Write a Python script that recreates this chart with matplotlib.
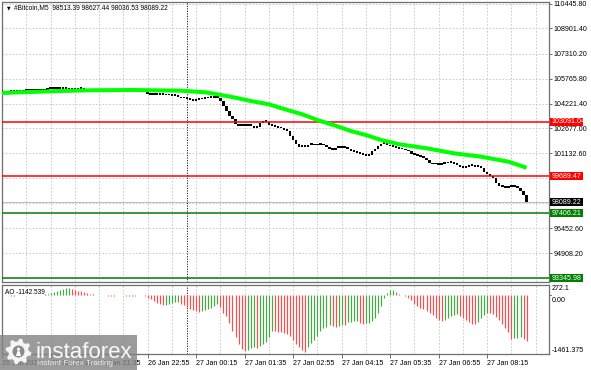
import numpy as np
import matplotlib
matplotlib.use("Agg")
import matplotlib.pyplot as plt
import matplotlib.transforms as mtransforms
from matplotlib.patches import Rectangle, Polygon, Circle

plt.rcParams['font.family'] = ['Liberation Sans', 'DejaVu Sans']

# ---------------- data ----------------
close = [
    # 26 Jan 18:55 ...
    104945, 104930, 104960, 104950, 104975, 104990, 104985, 105000, 105010, 105020, 105030, 105025, 105040, 105050,
    105064, 105126, 105157, 105157, 105170, 105157, 105151, 105126, 105095, 105095, 105107, 105126, 105157,
    105090, 105060, 105040, 105030, 105020, 105035, 105025, 105010, 105000, 104990, 104970, 105000, 105040, 105080,
    105120, 105110, 105060, 105040, 105030, 105020, 104990,
    104784, 104753, 104771, 104753, 104784, 104765, 104740, 104753, 104721, 104690, 104628, 104535, 104597,
    # 27 Jan 00:00 ...
    104504, 104441, 104379, 104441, 104473, 104504, 104535, 104566, 104585, 104597, 104566, 104379, 104068, 103757,
    103446, 103259, 102948, 102823, 102855, 102823, 102886, 102823, 102699, 102761, 103010, 103135, 103072, 102886,
    102823, 102792, 102699, 102668, 102575, 102512, 102201, 101952, 101703, 101517, 101579,
    101517, 101641, 101641, 101610, 101672, 101703, 101610, 101517, 101423, 101330, 101454, 101486, 101454, 101517,
    101423, 101268, 101205, 101174, 101112, 101019, 100957, 101019, 101237, 101392, 101579, 101703, 101766, 101641,
    101548, 101517, 101454, 101392, 101361, 101299, 101237, 101112, 101019, 100957, 100894, 100832, 100708, 100521,
    100428, 100459, 100396, 100459, 100490, 100521, 100521, 100459, 100396, 100303, 100210, 100241, 100396, 100365,
    100272, 100334, 100210, 99961, 99836, 99712, 99588, 99276, 99090, 99027, 98996, 99059, 99027, 99058, 98965,
    98778, 98513.39, 98089.22,
]
first_open = 104940

ao = [
    7, 12, 5, -5, -7, -2, 2, 7, 5, 10, 12, 10, 15, 20,
    30, 42, 57, 74, 99, 124, 149, 173, 191,
    161, 136, 116, 99, 82, 64, 47, 30, 15,
    10, 5, 0, -5, -7,
    -5, -2, 0, 2,
    -15,
    -10, -7, -5, -2, 0,
    -25,
    -62, -99, -141, -181, -215, -240,
    -228, -210, -193, -173, -156,
    -206, -240, -290, -339, -371, -389, -404,
    -396, -371, -339, -305, -272, -223,
    -290, -428, -513, -676, -884, -1047, -1213, -1337, -1379,
    -1362, -1320, -1295,
    -1312,
    -1255, -1213, -1171, -1040,
    -891, -896, -901, -911, -929, -961, -1008, -1114, -1213, -1295, -1362, -1406,
    -1295, -1196, -1114, -1008, -884, -817, -785, -735,
    -760, -800,
    -760, -735,
    -748,
    -661, -651, -644, -636,
    -676, -701,
    -693, -686, -636, -552, -428, -265, -57, 67, 124, 131,
    92, 42, 7, -17, -57, -124, -206, -265, -305, -347, -389, -428, -488, -552, -619, -644,
    -619, -569, -520, -478, -470,
    -503, -552, -619, -669, -701, -718,
    -651, -569, -488, -438,
    -446, -470, -537, -619, -718, -817, -924, -1077,
    -1065, -1055, -1032,
    -1077,
    -1142.539,
]

ma_bar = [0, 6, 19, 29, 43, 59, 67, 71, 77, 82, 88, 93, 99, 104, 110, 115, 120, 125, 131, 140, 149, 158, 167, 173]
ma_val = [104877, 104921, 105002, 105045, 105064, 105020, 104921, 104796, 104585, 104379, 104174, 103881, 103552,
          103197, 102842, 102512, 102263, 101952, 101685, 101436, 101125, 100913, 100602, 100228]

price_ticks = [110445.80, 108901.40, 107310.20, 105765.80, 104221.40, 102677.00, 101132.60,
               99588.20, 98043.80, 96452.60, 94908.20, 93363.80]
hidden_tick_labels = [98043.80, 93363.80]   # covered by the price boxes in the reference
red_levels = [103091.04, 99689.47]
green_levels = [97406.21, 93345.98]
bid_price = 98089.22

xtick_bars = [0, 16, 32, 48, 64, 80, 96, 112, 128, 144, 160]
xtick_labels = ["26 Jan 2025", "26 Jan 20:15", "26 Jan 21:35", "26 Jan 22:55", "27 Jan 00:15",
                "27 Jan 01:35", "27 Jan 02:55", "27 Jan 04:15", "27 Jan 05:35", "27 Jan 06:55",
                "27 Jan 08:15"]
separator_bar = 61
title = "#Bitcoin,M5  98513.39 98627.44 98036.53 98089.22"
ao_label = "AO -1142.539"
ao_max, ao_min = 272.1, -1461.375

# ---------------- figure ----------------
W, H = 591, 370
fig = plt.figure(figsize=(W / 100, H / 100), dpi=100)
fig.patch.set_facecolor('white')

def fx(px):
    return px / W

def fy(py):
    return 1 - py / H

ax = fig.add_axes([fx(2), fy(282), fx(549) - fx(2), fy(2) - fy(282)])
ax2 = fig.add_axes([fx(2), fy(354), fx(549) - fx(2), fy(284.5) - fy(354)])

FS = 5.1
grid_kw = dict(color='#c4c4c4', linestyle=(0, (2, 2)), linewidth=0.6)
XL = (-0.03, 180.4)

for a in (ax, ax2):
    a.set_xlim(*XL)
    for s in a.spines.values():
        s.set_color('#6e6e6e')
        s.set_linewidth(0.9)
    a.set_xticks(np.arange(0, 181, 8), minor=True)
    a.set_xticks(xtick_bars)
    a.grid(True, axis='x', which='both', **grid_kw)
    a.set_axisbelow(True)
    a.tick_params(axis='x', which='minor', length=0)

# main pane
ax.set_ylim(93115.5, 110539.9)
ax.yaxis.tick_right()
ax.set_yticks(price_ticks)
ax.set_yticklabels(["" if v in hidden_tick_labels else f"{v:.2f}" for v in price_ticks])
ax.tick_params(axis='y', length=2, pad=1.2, labelsize=FS, color='#555555', width=0.6)
ax.tick_params(axis='x', which='major', length=0, labelbottom=False)
ax.grid(True, axis='y', **grid_kw)

idx = np.arange(len(close))
c = np.array(close, dtype=float)
o = np.concatenate([[first_open], c[:-1]])
bottoms = np.minimum(o, c)
heights = np.maximum(np.abs(c - o), 95)
ax.bar(idx, heights, bottom=bottoms, width=0.8, color='black', linewidth=0, zorder=3)

ax.axhline(bid_price, color='#c0c0c0', linewidth=0.8, zorder=2)
for lv in red_levels:
    ax.axhline(lv, color='#ff0000', linewidth=1.1, zorder=4)
for lv in green_levels:
    ax.axhline(lv, color='#008000', linewidth=1.1, zorder=4)

ax.plot(ma_bar, ma_val, color='#00ff00', linewidth=2.9, solid_capstyle='butt', zorder=5)
ax.axvline(separator_bar, color='#202020', linestyle=(0, (1.2, 1.4)), linewidth=0.7, zorder=2)

# price boxes on the right scale
trans = mtransforms.blended_transform_factory(ax.transAxes, ax.transData)
pix_price = (110539.9 - 93115.5) / 280.0
box_w = 33.5 / 547.0
box_h = 8.0 * pix_price

def price_box(val, fc):
    ax.add_patch(Rectangle((1.0018, val - box_h / 2), box_w, box_h, transform=trans,
                           facecolor=fc, edgecolor='none', clip_on=False, zorder=10))
    ax.text(1.0045, val, f"{val:.2f}", transform=trans, color='white', fontsize=FS,
            va='center', ha='left', clip_on=False, zorder=11)

for lv in red_levels:
    price_box(lv, '#ff0000')
price_box(bid_price, '#000000')
for lv in green_levels:
    price_box(lv, '#008000')

ax.text(0.009, 0.979, "\u25BC", transform=ax.transAxes, fontsize=3.3, va='center', ha='left',
        family=['DejaVu Sans'])
ax.text(0.0215, 0.979, title, transform=ax.transAxes, fontsize=4.75, va='center', ha='left')

# AO pane
ao_arr = np.array(ao, dtype=float)
ao_idx = np.arange(len(ao_arr))
up = np.concatenate([[True], np.diff(ao_arr) > 0])
cols = np.where(up, '#3fae3f', '#ff4d4d')
ax2.vlines(ao_idx, 0, ao_arr, colors=cols, linewidth=0.85, zorder=3)
ax2.set_ylim(ao_min, ao_max)
ax2.set_yticks([])
ax2.axvline(separator_bar, color='#202020', linestyle=(0, (1.2, 1.4)), linewidth=0.7, zorder=2)
ax2.set_xticklabels(xtick_labels, ha='left')
ax2.tick_params(axis='x', which='major', length=3, pad=1.6, labelsize=FS, color='#555555', width=0.6)
ax2.text(0.006, 0.93, ao_label, transform=ax2.transAxes, fontsize=4.7, va='top', ha='left')

t2 = mtransforms.blended_transform_factory(ax2.transAxes, ax2.transData)
ax2.text(1.0055, ao_max, "272.1", transform=t2, fontsize=FS, va='top', ha='left', clip_on=False)
ax2.text(1.0055, -40, "0.00", transform=t2, fontsize=FS, va='top', ha='left', clip_on=False)
ax2.text(1.0055, ao_min, "-1461.375", transform=t2, fontsize=FS, va='bottom', ha='left', clip_on=False)
ax2.plot([1.0, 1.004], [0, 0], transform=t2, color='#555555', lw=0.6, clip_on=False)

# watermark
wm = fig.add_axes([0, 0, fx(136.5), 35 / H])
wm.set_xlim(0, 136.5)
wm.set_ylim(35, 0)
wm.axis('off')
wm.add_patch(Rectangle((0, 0), 136.5, 35, facecolor='#858585', alpha=0.82, edgecolor='none'))
cx, cy = 18.5, 16.5
ang = np.linspace(0, 2 * np.pi, 8 * 4, endpoint=False)
rr = np.tile([13.0, 13.0, 10.0, 10.0], 8)
ang = ang + np.pi / 32
gear = np.column_stack([cx + rr * np.cos(ang), cy + rr * np.sin(ang)])
wm.add_patch(Polygon(gear, closed=True, facecolor='white', edgecolor='none', alpha=0.9))
wm.add_patch(Circle((cx, cy), 6.0, facecolor='#8a8a8a', edgecolor='none'))
wm.add_patch(Circle((cx, cy - 2.3), 1.6, facecolor='white', edgecolor='none'))
wm.add_patch(Polygon([[cx - 2.5, cy + 4.5], [cx - 1.2, cy - 0.3], [cx + 1.2, cy - 0.3], [cx + 2.5, cy + 4.5]],
                     closed=True, facecolor='white', edgecolor='none'))
wm.text(35.5, 22.5, "instaforex", fontsize=16, color='white', va='baseline', ha='left', alpha=0.95)
wm.text(37, 28.5, "Instant Forex Trading", fontsize=5.8, color='#eeeeee', va='center', ha='left')

fig.savefig("out.png", dpi=100)
